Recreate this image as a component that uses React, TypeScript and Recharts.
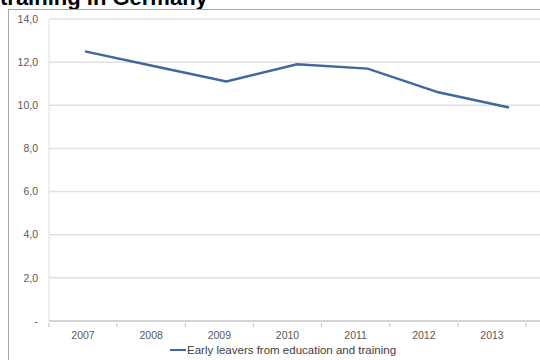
import React from 'react';
import { LineChart, Line, XAxis, YAxis, CartesianGrid, Legend } from 'recharts';

const years = ['2007', '2008', '2009', '2010', '2011', '2012', '2013'];
const earlyLeavers = [12.5, 11.8, 11.1, 11.9, 11.7, 10.6, 9.9];
const yTicks = [0, 2, 4, 6, 8, 10, 12, 14];
const seriesName = 'Early leavers from education and training';
const titleText = 'training in Germany';

const data = years.map((y, i) => ({ year: y, value: earlyLeavers[i] }));

const FONT = '"Liberation Sans", Arial, Helvetica, sans-serif';

if (typeof document !== 'undefined') {
  document.documentElement.style.overflow = 'hidden';
  document.body.style.overflow = 'hidden';
  document.body.style.margin = '0';
}

const XTick = (props: any) => {
  const { x, y, payload, index, visibleTicksCount } = props;
  const half = 34.1;
  return (
    <g>
      <line x1={x - half} x2={x - half} y1={y} y2={y + 4} stroke="#bfbfbf" strokeWidth={1} />
      {index === visibleTicksCount - 1 && (
        <line x1={x + half} x2={x + half} y1={y} y2={y + 4} stroke="#bfbfbf" strokeWidth={1} />
      )}
      <text x={x} y={y + 16} textAnchor="middle" fontSize={10.5} fill="#595959" fontFamily={FONT}>
        {payload.value}
      </text>
    </g>
  );
};

const LegendContent = () => (
  <div style={{ height: 20, position: 'relative', width: 540, fontFamily: FONT }}>
    <div style={{ position: 'absolute', left: 170, top: 9, width: 16, height: 2, background: '#41679b' }} />
    <div style={{ position: 'absolute', left: 187, top: 2, fontSize: 11.5, color: '#404040', whiteSpace: 'nowrap', lineHeight: '16px' }}>
      {seriesName}
    </div>
  </div>
);

export default function App() {
  return (
    <div style={{ position: 'fixed', left: 0, top: 0, width: 540, height: 360, overflow: 'hidden', background: '#fff', fontFamily: FONT }}>
      <div style={{ position: 'absolute', left: 0, top: -15, fontSize: 22, fontWeight: 'bold', color: '#000', whiteSpace: 'nowrap', lineHeight: 'normal' }}>
        {titleText}
      </div>
      <div style={{ position: 'absolute', left: 8, top: 9, width: 540, height: 360, borderLeft: '1px solid #a6a6a6', borderTop: '1px solid #a6a6a6' }} />
      <div style={{ position: 'absolute', left: 0, top: 0 }}>
        <LineChart width={540} height={360} data={data} margin={{ top: 19, right: 0, bottom: 0, left: 0 }}>
          <CartesianGrid xAxisId="cat" vertical={false} stroke="#e0e0e0" strokeWidth={1.5} />
          <XAxis
            xAxisId="cat"
            dataKey="year"
            height={19}
            padding={{ left: 34, right: 48 }}
            axisLine={{ stroke: '#bfbfbf' }}
            tickLine={false}
            tickSize={0}
            tick={<XTick />}
            interval={0}
          />
          <XAxis xAxisId="line" dataKey="year" hide padding={{ left: 36, right: 31 }} />
          <YAxis
            domain={[0, 14]}
            ticks={yTicks}
            width={49}
            tickSize={0}
            tickMargin={11}
            tickLine={false}
            axisLine={{ stroke: '#e0e0e0' }}
            tick={{ fontSize: 10.5, fill: '#595959', fontFamily: FONT }}
            tickFormatter={(v: number) => (v === 0 ? '-' : v.toFixed(1).replace('.', ','))}
          />
          <Legend verticalAlign="bottom" content={<LegendContent />} wrapperStyle={{ left: 0, width: 540 }} />
          <Line
            xAxisId="line"
            type="linear"
            dataKey="value"
            name={seriesName}
            stroke="#41679b"
            strokeWidth={2.5}
            dot={false}
            isAnimationActive={false}
          />
        </LineChart>
      </div>
    </div>
  );
}
